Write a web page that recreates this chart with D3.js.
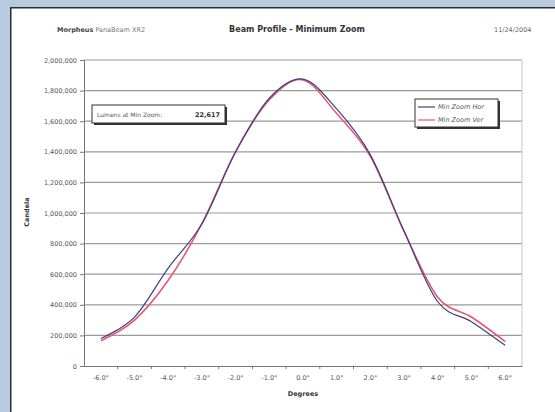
<!DOCTYPE html>
<html>
<head>
<meta charset="utf-8">
<script src="https://cdn.jsdelivr.net/npm/d3@7"></script>
<style>
  body { margin: 0; background: #b7cadf; }
  svg { display: block; font-family: "DejaVu Sans", Verdana, sans-serif; }
  .axis-label { font-size: 6.5px; font-weight: bold; fill: #333; }
</style>
</head>
<body>
<svg width="555" height="412"></svg>
<script>
// chart data
const degrees = [-6, -5, -4, -3, -2, -1, 0, 1, 2, 3, 4, 5, 6];
const minZoomHor = [180000, 320000, 640000, 930000, 1400000, 1750000, 1875000, 1680000, 1380000, 880000, 420000, 290000, 135000];
const minZoomVer = [165000, 300000, 560000, 930000, 1400000, 1740000, 1870000, 1650000, 1370000, 880000, 450000, 320000, 160000];
const yTicks = [0, 200000, 400000, 600000, 800000, 1000000, 1200000, 1400000, 1600000, 1800000, 2000000];
const seriesNames = ['Min Zoom Hor', 'Min Zoom Ver'];
const lumensLabel = 'Lumens at Min Zoom:';
const lumensValue = '22,617';

const svg = d3.select('svg');
const width = +svg.attr('width');
const height = +svg.attr('height');

// white panel, border only on left and top (the rest runs off the picture)
svg.append('rect')
    .attr('x', 10).attr('y', 7)
    .attr('width', width - 10).attr('height', height - 7)
    .attr('fill', '#fff');
svg.append('path')
    .attr('d', `M10.75,${height} V7.75 H${width}`)
    .attr('fill', 'none')
    .attr('stroke', '#2b2b2b')
    .attr('stroke-width', 1.5);

// header
const header = svg.append('text')
    .attr('x', 57).attr('y', 32)
    .attr('font-size', 6.5).attr('fill', '#444');
header.append('tspan').attr('font-weight', 'bold').text('Morpheus');
header.append('tspan').attr('fill', '#777').text(' PanaBeam XR2');

svg.append('text')
    .attr('x', 297).attr('y', 32)
    .attr('text-anchor', 'middle')
    .attr('font-size', 8).attr('font-weight', 'bold').attr('fill', '#333')
    .text('Beam Profile - Minimum Zoom');

svg.append('text')
    .attr('x', 494).attr('y', 32)
    .attr('font-size', 6.5).attr('fill', '#666')
    .text('11/24/2004');

const margin = { top: 60, right: 33, bottom: 46, left: 84 };
const innerWidth = width - margin.left - margin.right;
const innerHeight = height - margin.top - margin.bottom;

const g = svg.append('g')
    .attr('transform', `translate(${margin.left}, ${margin.top})`);

const xScale = d3.scaleBand()
    .domain(degrees)
    .range([0, innerWidth]);

const yScale = d3.scaleLinear()
    .domain([0, 2000000])
    .range([innerHeight, 0]);

// gridlines
g.append('g').attr('class', 'grid')
    .selectAll('line').data(yTicks.slice(1))
    .enter().append('line')
        .attr('x1', 0).attr('x2', innerWidth)
        .attr('y1', d => yScale(d)).attr('y2', d => yScale(d))
        .attr('stroke', '#9a9a9a').attr('stroke-width', 1.2);

// right border of plot area
g.append('line')
    .attr('x1', innerWidth).attr('x2', innerWidth)
    .attr('y1', 0).attr('y2', innerHeight)
    .attr('stroke', '#c8c8c8');

// y axis
const yAxis = d3.axisLeft(yScale)
    .tickValues(yTicks)
    .tickFormat(d3.format(','))
    .tickSize(4)
    .tickPadding(3);

const yAxisG = g.append('g').call(yAxis)
    .attr('font-size', 6.5)
    .attr('font-family', null);
yAxisG.selectAll('.domain, .tick line').attr('stroke', '#777');
yAxisG.selectAll('.tick text').attr('fill', '#555');

yAxisG.append('text')
    .attr('class', 'axis-label')
    .attr('transform', 'rotate(-90)')
    .attr('x', -152).attr('y', -55)
    .attr('text-anchor', 'middle')
    .text('Candela');

// x axis: labels in band centers, ticks on band edges
const xAxis = d3.axisBottom(xScale)
    .tickFormat(d => d.toFixed(1) + '°')
    .tickSize(0)
    .tickPadding(9);

const xAxisG = g.append('g')
    .attr('transform', `translate(0, ${innerHeight})`)
    .call(xAxis)
    .attr('font-size', 6.5)
    .attr('font-family', null);
xAxisG.select('.domain').attr('stroke', '#777');
xAxisG.selectAll('.tick text').attr('fill', '#555');

xAxisG.selectAll('.edge').data(degrees.slice(1))
    .enter().append('line')
        .attr('class', 'edge')
        .attr('x1', d => xScale(d)).attr('x2', d => xScale(d))
        .attr('y1', 0).attr('y2', 3)
        .attr('stroke', '#777');

xAxisG.append('text')
    .attr('class', 'axis-label')
    .attr('x', innerWidth / 2).attr('y', 30)
    .attr('text-anchor', 'middle')
    .text('Degrees');

// lines
const xCenter = d => xScale(d) + xScale.bandwidth() / 2;
const line = d3.line()
    .x((d, i) => xCenter(degrees[i]))
    .y(d => yScale(d))
    .curve(d3.curveCatmullRom.alpha(0));

g.append('path')
    .datum(minZoomVer)
    .attr('d', line)
    .attr('fill', 'none')
    .attr('stroke', '#e4587a')
    .attr('stroke-width', 1.6);

g.append('path')
    .datum(minZoomHor)
    .attr('d', line)
    .attr('fill', 'none')
    .attr('stroke', '#40407e')
    .attr('stroke-width', 1.2);

// lumens box
const lb = svg.append('g').attr('transform', 'translate(92, 105)');
lb.append('rect').attr('x', 2).attr('y', 2).attr('width', 133).attr('height', 18).attr('fill', '#333');
lb.append('rect').attr('width', 133).attr('height', 18).attr('fill', '#fff').attr('stroke', '#333');
lb.append('text').attr('x', 5).attr('y', 11.5).attr('font-size', 6).attr('fill', '#555').text(lumensLabel);
lb.append('text').attr('x', 128).attr('y', 11.5).attr('text-anchor', 'end')
    .attr('font-size', 6.5).attr('font-weight', 'bold').attr('fill', '#333').text(lumensValue);

// legend
const legendColors = ['#40407e', '#e4587a'];
const lg = svg.append('g').attr('transform', 'translate(415, 99)');
lg.append('rect').attr('x', 2).attr('y', 2).attr('width', 83).attr('height', 28).attr('fill', '#333');
lg.append('rect').attr('width', 83).attr('height', 28).attr('fill', '#fff').attr('stroke', '#333');
const items = lg.selectAll('.item').data(seriesNames)
    .enter().append('g')
        .attr('transform', (d, i) => `translate(3, ${8 + i * 13})`);
items.append('line')
    .attr('x1', 0).attr('x2', 17)
    .attr('stroke', (d, i) => legendColors[i])
    .attr('stroke-width', 1.2);
items.append('text')
    .attr('x', 20).attr('y', 2.2)
    .attr('font-size', 6.5).attr('font-style', 'italic').attr('fill', '#555')
    .text(d => d);
</script>
</body>
</html>
